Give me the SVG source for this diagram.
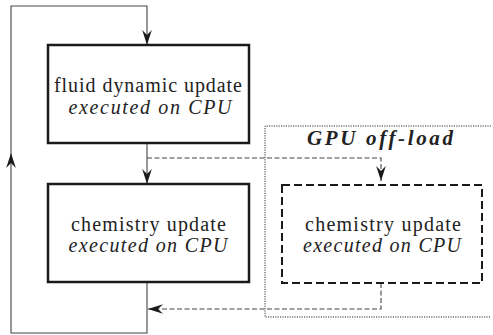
<svg xmlns="http://www.w3.org/2000/svg" width="493" height="335" viewBox="0 0 493 335">
<style>
.box{fill:none;stroke:#1a1a1a;stroke-width:2.5}
.dbox{fill:none;stroke:#1a1a1a;stroke-width:2;stroke-dasharray:8 4}
.dot{fill:none;stroke:#333;stroke-width:1;stroke-dasharray:1.2 1.2}
.con{fill:none;stroke:#444;stroke-width:1.1}
.dcon{fill:none;stroke:#444;stroke-width:1.1;stroke-dasharray:5 2.5}
text{font-family:"Liberation Serif","Times New Roman",serif;font-size:20px;fill:#222;text-anchor:middle}
.i{font-style:italic}
.b{font-weight:bold;font-style:italic;font-size:21px}
</style>
<defs>
<marker id="ar" markerUnits="userSpaceOnUse" viewBox="-16 -6 17 12" refX="0" refY="0" markerWidth="17" markerHeight="12" orient="auto">
<path d="M0,0 L-15,-4.8 L-10,0 L-15,4.8 Z" fill="#1a1a1a"/>
</marker>
</defs>
<g id="connectors">
<path class="con" d="M147,282 V333 H11 V153" marker-end="url(#ar)"/>
<path class="con" d="M11,153 V6 H147 V45" marker-end="url(#ar)"/>
<path class="con" d="M147,143 V184" marker-end="url(#ar)"/>
<path class="dcon" d="M147,158 H381 V181" marker-end="url(#ar)"/>
<path class="dcon" d="M381,283 V309 H148" marker-end="url(#ar)"/>
</g>
<g id="gpu-offload">
<path class="dot" d="M491,126 H265 V317 H491"/>
<text class="b" x="380" y="145" textLength="146" lengthAdjust="spacing">GPU off-load</text>
</g>
<g id="fluid">
<rect class="box" x="48" y="45" width="201" height="98"/>
<text x="148" y="92" textLength="188" lengthAdjust="spacing">fluid dynamic update</text>
<text class="i" x="150" y="114" textLength="163" lengthAdjust="spacing">executed on CPU</text>
</g>
<g id="chem-cpu">
<rect class="box" x="48" y="184" width="201" height="98"/>
<text x="148.5" y="231" textLength="155" lengthAdjust="spacing">chemistry update</text>
<text class="i" x="148" y="252" textLength="159" lengthAdjust="spacing">executed on CPU</text>
</g>
<g id="chem-gpu">
<rect class="dbox" x="282" y="185" width="200" height="98"/>
<text x="383" y="231" textLength="156" lengthAdjust="spacing">chemistry update</text>
<text class="i" x="382" y="252" textLength="158" lengthAdjust="spacing">executed on CPU</text>
</g>
</svg>
